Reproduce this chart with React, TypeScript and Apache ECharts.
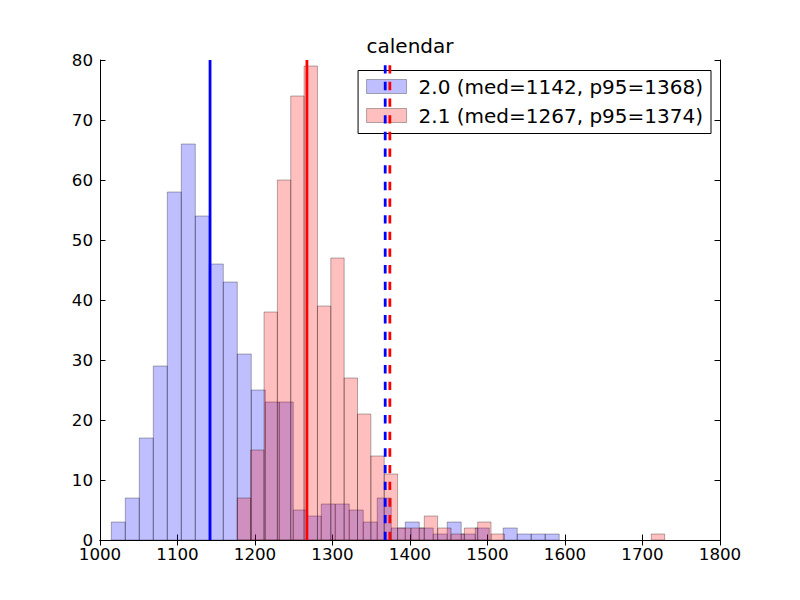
import React, { useEffect, useRef } from "react";
import * as echarts from "echarts";

// Histogram bins (value-axis units)
const BLUE_NAME = "2.0 (med=1142, p95=1368)";
const RED_NAME = "2.1 (med=1267, p95=1374)";
const BLUE_START = 1014.6;
const BLUE_WIDTH = 18.06;
const BLUE_COUNTS = [3, 7, 17, 29, 58, 66, 54, 46, 43, 31, 25, 23, 23, 5, 4, 6, 6, 5, 3, 7, 2, 3, 2, 1, 3, 1, 2, 0, 2, 1, 1, 1];
const RED_START = 1177.2;
const RED_WIDTH = 17.23;
const RED_COUNTS = [7, 15, 38, 60, 74, 79, 39, 47, 27, 21, 14, 11, 2, 2, 4, 2, 1, 2, 3, 1, 0, 0, 0, 0, 0, 0, 0, 0, 0, 0, 0, 1];
const BLUE_MEDIAN = 1142;
const BLUE_P95 = 1368;
const RED_MEDIAN = 1267;
const RED_P95 = 1374;
const X_TICKS = { min: 1000, max: 1800, interval: 100 };
const Y_TICKS = { min: 0, max: 80, interval: 10 };

const BLUE_FILL = "rgba(0,0,255,0.25)";
const RED_FILL = "rgba(255,0,0,0.25)";
const EDGE = "rgba(0,0,0,0.3)";
const FONT = "DejaVu Sans";

function bins(start: number, width: number, counts: number[]) {
  const out: number[][] = [];
  counts.forEach((c, i) => {
    if (c > 0) out.push([start + i * width, start + (i + 1) * width, c]);
  });
  return out;
}

function histSeries(name: string, data: number[][], fill: string) {
  return {
    type: "custom",
    name,
    data,
    encode: { x: [0, 1], y: 2 },
    itemStyle: { color: fill },
    z: 2,
    renderItem: (params: any, api: any) => {
      const p0 = api.coord([api.value(0), api.value(2)]);
      const p1 = api.coord([api.value(1), 0]);
      return {
        type: "rect",
        shape: { x: p0[0], y: p0[1], width: p1[0] - p0[0], height: p1[1] - p0[1] },
        style: { fill, stroke: EDGE, lineWidth: 1 },
      };
    },
  };
}

function vline(x: number, color: string, dashed: boolean) {
  return {
    type: "line",
    data: [
      [x, Y_TICKS.min],
      [x, Y_TICKS.max],
    ],
    symbol: "none",
    silent: true,
    z: 5,
    lineStyle: { color, width: 2.78, type: dashed ? [8.33, 8.33] : "solid" },
  };
}

const axisCommon = {
  type: "value",
  axisLine: { show: true, lineStyle: { color: "#000", width: 1 } },
  axisTick: { show: true, inside: true, length: 5.5, lineStyle: { color: "#000" } },
  splitLine: { show: false },
};

const plain = (v: number) => String(v);

export default function App() {
  const ref = useRef<HTMLDivElement>(null);
  useEffect(() => {
    if (!ref.current) return;
    const chart = echarts.init(ref.current, null, { renderer: "svg" });
    chart.setOption({
      animation: false,
      backgroundColor: "#fff",
      textStyle: { fontFamily: FONT },
      grid: { left: 100, right: 80, top: 60, bottom: 60, containLabel: false, outerBoundsMode: "none" },
      graphic: [
        {
          type: "text",
          x: 410,
          y: 46,
          style: { text: "calendar", fontSize: 20, fontFamily: FONT, fill: "#000", textAlign: "center", textVerticalAlign: "middle" },
        },
      ],
      legend: {
        orient: "vertical",
        right: 89,
        top: 70.5,
        padding: [6, 8, 8, 8],
        itemWidth: 40,
        itemHeight: 14,
        itemGap: 9,
        icon: "rect",
        backgroundColor: "#fff",
        borderColor: "#000",
        borderWidth: 1,
        borderRadius: 0,
        textStyle: { fontSize: 20, fontFamily: FONT, color: "#000", lineHeight: 20, padding: [0, 0, 0, 7] },
        data: [
          { name: BLUE_NAME, itemStyle: { color: BLUE_FILL, borderColor: EDGE, borderWidth: 1 } },
          { name: RED_NAME, itemStyle: { color: RED_FILL, borderColor: EDGE, borderWidth: 1 } },
        ],
      },
      xAxis: [
        {
          ...axisCommon,
          position: "bottom",
          ...X_TICKS,
          axisLabel: { show: true, color: "#000", fontSize: 16.7, lineHeight: 17, fontFamily: FONT, margin: 5, formatter: plain },
        },
        {
          ...axisCommon,
          position: "top",
          ...X_TICKS,
          axisLabel: { show: false },
        },
      ],
      yAxis: [
        {
          ...axisCommon,
          position: "left",
          ...Y_TICKS,
          axisLabel: { show: true, color: "#000", fontSize: 16.7, lineHeight: 10, fontFamily: FONT, margin: 7, formatter: plain },
        },
        {
          ...axisCommon,
          position: "right",
          ...Y_TICKS,
          axisLabel: { show: false },
        },
      ],
      series: [
        histSeries(BLUE_NAME, bins(BLUE_START, BLUE_WIDTH, BLUE_COUNTS), BLUE_FILL),
        histSeries(RED_NAME, bins(RED_START, RED_WIDTH, RED_COUNTS), RED_FILL),
        vline(BLUE_MEDIAN, "#0000ff", false),
        vline(BLUE_P95, "#0000ff", true),
        vline(RED_MEDIAN, "#ff0000", false),
        vline(RED_P95, "#ff0000", true),
      ],
    });
    return () => chart.dispose();
  }, []);
  return <div ref={ref} style={{ position: "fixed", left: 0, top: 0, width: 800, height: 600 }} />;
}
